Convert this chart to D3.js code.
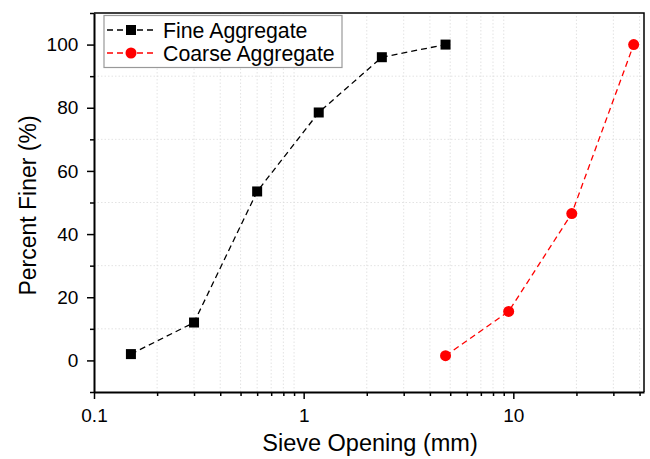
<!DOCTYPE html>
<html>
<head>
<meta charset="utf-8">
<script src="https://cdn.jsdelivr.net/npm/d3@7"></script>
<style>
  body { margin: 0; background: #fff; }
  text { font-family: "Liberation Sans", Arial, sans-serif; fill: #000; }
</style>
</head>
<body>
<div id="chart"></div>
<script>
const fineSieve = [0.15, 0.3, 0.6, 1.18, 2.36, 4.75];
const finePassing = [2, 12, 53.5, 78.5, 96, 100];
const coarseSieve = [4.75, 9.5, 19, 37.5];
const coarsePassing = [1.5, 15.5, 46.5, 100];
const yTicks = [0, 20, 40, 60, 80, 100];
const yMinor = [-10, 10, 30, 50, 70, 90, 110];
const xTicks = [0.1, 1, 10];
const xMinor = [0.2, 0.3, 0.4, 0.5, 0.6, 0.7, 0.8, 0.9, 2, 3, 4, 5, 6, 7, 8, 9, 20, 30, 40];

const width = 650, height = 459;
const margin = {top: 13, right: 6, bottom: 67, left: 94};

const svg = d3.select("#chart").append("svg")
    .attr("width", width).attr("height", height);

const x = d3.scaleLog().domain([0.1, 42]).range([margin.left, width - margin.right]);
const y = d3.scaleLinear().domain([-10, 110]).range([height - margin.bottom, margin.top]);

const x0 = margin.left, x1 = width - margin.right;
const y0 = height - margin.bottom, y1 = margin.top;

// grid (minor positions only, like the original)
const grid = svg.append("g").attr("stroke", "#dcdcdc").attr("stroke-width", 0.8).attr("stroke-dasharray", "1.5,2");
grid.selectAll(".gx").data(xMinor).enter().append("line")
    .attr("x1", d => x(d)).attr("x2", d => x(d)).attr("y1", y0).attr("y2", y1);
grid.selectAll(".gy").data(yMinor.filter(d => d > -10 && d < 110)).enter().append("line")
    .attr("x1", x0).attr("x2", x1).attr("y1", d => y(d)).attr("y2", d => y(d));

// axes
const fmt = d => d3.format("~g")(d);
const xAxis = svg.append("g").attr("transform", `translate(0,${y0})`)
    .call(d3.axisBottom(x).tickValues(xTicks).tickFormat(fmt).tickSize(7).tickSizeOuter(0));
svg.append("g").attr("transform", `translate(0,${y0})`)
    .call(d3.axisBottom(x).tickValues(xMinor).tickFormat("").tickSize(4).tickSizeOuter(0))
    .call(g => g.select(".domain").remove());
const yAxis = svg.append("g").attr("transform", `translate(${x0},0)`)
    .call(d3.axisLeft(y).tickValues(yTicks).tickSize(7).tickSizeOuter(0));
svg.append("g").attr("transform", `translate(${x0},0)`)
    .call(d3.axisLeft(y).tickValues(yMinor).tickFormat("").tickSize(4).tickSizeOuter(0))
    .call(g => g.select(".domain").remove());

svg.selectAll(".tick line").attr("stroke", "#000").attr("stroke-width", 1.5);
svg.selectAll(".domain").attr("stroke", "#000").attr("stroke-width", 2);
xAxis.selectAll("text").attr("font-size", 19).attr("dy", "1.05em");
yAxis.selectAll("text").attr("font-size", 19).attr("dx", "-0.3em");

// top and right frame
svg.append("path")
    .attr("d", `M${x0},${y1}H${x1}V${y0}`)
    .attr("fill", "none").attr("stroke", "#000").attr("stroke-width", 1.5);

// axis titles
svg.append("text").attr("x", (x0 + x1) / 2 + 1).attr("y", 451)
    .attr("text-anchor", "middle").attr("font-size", 23.5).text("Sieve Opening (mm)");
svg.append("text").attr("transform", `translate(36,${(y0 + y1) / 2 + 3}) rotate(-90)`)
    .attr("text-anchor", "middle").attr("font-size", 23).text("Percent Finer (%)");

// series
const series = [
  {name: "Fine Aggregate", xs: fineSieve, ys: finePassing, color: "#000", shape: "square"},
  {name: "Coarse Aggregate", xs: coarseSieve, ys: coarsePassing, color: "#ff0000", shape: "circle"}
];

const line = d3.line().x(d => x(d[0])).y(d => y(d[1]));

function drawMarker(g, shape, color) {
  if (shape === "square") {
    g.append("rect").attr("x", -5).attr("y", -5).attr("width", 10).attr("height", 10).attr("fill", color);
  } else {
    g.append("circle").attr("r", 5.5).attr("fill", color);
  }
}

series.forEach(s => {
  const pts = s.xs.map((v, i) => [v, s.ys[i]]);
  svg.append("path").datum(pts)
      .attr("d", line)
      .attr("fill", "none").attr("stroke", s.color).attr("stroke-width", 1.3)
      .attr("stroke-dasharray", "6,4");
  pts.forEach(p => {
    const g = svg.append("g").attr("transform", `translate(${x(p[0])},${y(p[1])})`);
    drawMarker(g, s.shape, s.color);
  });
});

// legend
const legend = svg.append("g");
legend.append("rect").attr("x", 104).attr("y", 15.5).attr("width", 238).attr("height", 52)
    .attr("fill", "#fff").attr("stroke", "#999").attr("stroke-width", 1.2);
series.forEach((s, i) => {
  const ly = 30 + i * 23;
  legend.append("line").attr("x1", 107).attr("x2", 156).attr("y1", ly).attr("y2", ly)
      .attr("stroke", s.color).attr("stroke-width", 1.3).attr("stroke-dasharray", "6,4");
  const g = legend.append("g").attr("transform", `translate(131,${ly})`);
  drawMarker(g, s.shape, s.color);
  legend.append("text").attr("x", 163).attr("y", ly + 7.5).attr("font-size", 21.3).text(s.name);
});
</script>
</body>
</html>
